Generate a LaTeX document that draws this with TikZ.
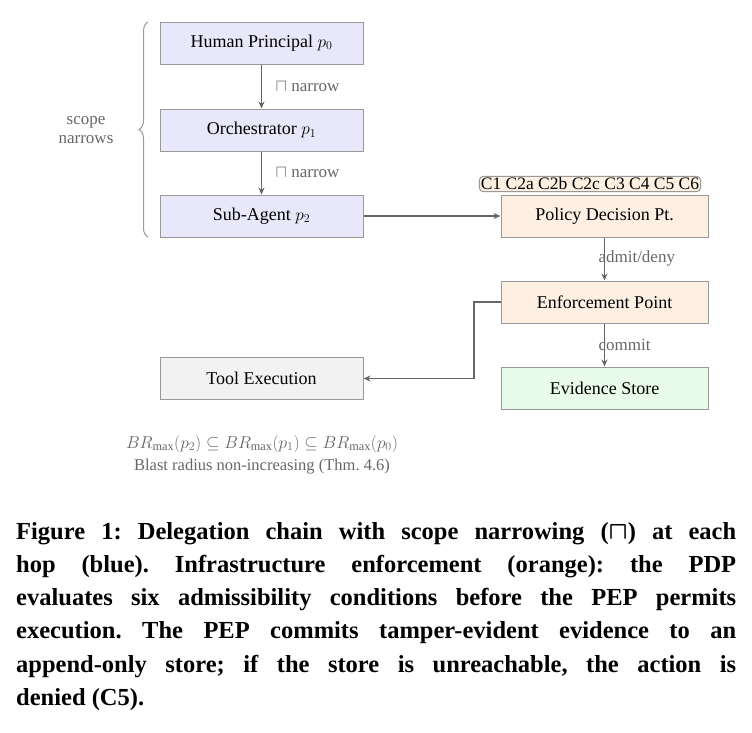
\documentclass[tikz,border=0pt]{standalone}
\usepackage{amsmath}
\usepackage{fontspec}
\setmainfont{Liberation Serif}
\usetikzlibrary{decorations.pathreplacing,arrows.meta}
\definecolor{bfill}{HTML}{E8E8FA}
\definecolor{ofill}{HTML}{FDF0E3}
\definecolor{gfill}{HTML}{E8FBE8}
\definecolor{tfill}{HTML}{F2F2F2}
\definecolor{edge}{HTML}{999999}
\definecolor{arr}{HTML}{666666}
\begin{document}
\frenchspacing
\begin{tikzpicture}[x=1pt,y=-1pt,
  box/.style={draw=edge,line width=1pt,minimum width=203pt,minimum height=42pt,font=\fontsize{18}{20}\selectfont,inner sep=0pt},
  arrow/.style={draw=arr,line width=1.5pt,-{Stealth[length=7pt,width=6pt]}},
  lbl/.style={text=arr,font=\fontsize{17}{19}\selectfont,anchor=west}]
\useasboundingbox (0,0) rectangle (752,732);
\node[box,fill=bfill] (hp) at (261.5,43) {Human Principal $p_0$};
\node[box,fill=bfill] (or) at (261.5,130) {Orchestrator $p_1$};
\node[box,fill=bfill] (sa) at (261.5,216) {Sub-Agent $p_2$};
\node[box,fill=ofill,minimum width=207pt] (pdp) at (604.5,216) {Policy Decision Pt.};
\node[draw=edge,fill=ofill,rounded corners=4pt,line width=1pt,inner sep=1.5pt,font=\fontsize{17.5}{19}\selectfont] (tag) at (590,184) {C1 C2a C2b C2c C3 C4 C5 C6};
\node[box,fill=ofill,minimum width=207pt] (pep) at (604.5,302) {Enforcement Point};
\node[box,fill=gfill,minimum width=207pt] (ev) at (604.5,388) {Evidence Store};
\node[box,fill=tfill] (te) at (261.5,378.5) {Tool Execution};
\draw[arrow] (hp) -- (or);
\draw[arrow] (or) -- (sa);
\draw[arrow] (sa) -- (pdp);
\draw[arrow] (pdp) -- (pep);
\draw[arrow] (pep) -- (ev);
\coordinate (k1) at (474,302);
\coordinate (k2) at (474,378.5);
\draw[arrow] (pep.west) -- (k1) -- (k2) -- (te.east);
\node[lbl] (n1) at (272,87) {$\sqcap$ narrow};
\node[lbl] (n2) at (272,173) {$\sqcap$ narrow};
\node[lbl] (ad) at (595,258) {admit/deny};
\node[lbl] (cm) at (595,345) {commit};
\draw[edge,line width=1pt,decorate,decoration={brace,amplitude=9pt}] (148,237) -- (148,22);
\node[text=arr,font=\fontsize{17}{19}\selectfont,align=center] (sn) at (86,130) {scope\\narrows};
\node[text=arr,font=\fontsize{17.5}{20}\selectfont] (br) at (262,444) {$BR_{\max}(p_2)\subseteq BR_{\max}(p_1)\subseteq BR_{\max}(p_0)$};
\node[text=arr,font=\fontsize{16.5}{19}\selectfont] (bl) at (262,467) {Blast radius non-increasing (Thm.~4.6)};
\node[anchor=north west,inner sep=0pt] (cap) at (16,522) {\parbox{720pt}{\fontsize{24.5}{33.2}\selectfont\bfseries
Figure 1: Delegation chain with scope narrowing ($\boldsymbol{\sqcap}$) at each\linebreak
hop (blue). Infrastructure enforcement (orange): the PDP\linebreak
evaluates six admissibility conditions before the PEP permits\linebreak
execution. The PEP commits tamper-evident evidence to an\linebreak
append-only store; if the store is unreachable, the action is\linebreak
denied (C5).}};
\end{tikzpicture}
\end{document}
